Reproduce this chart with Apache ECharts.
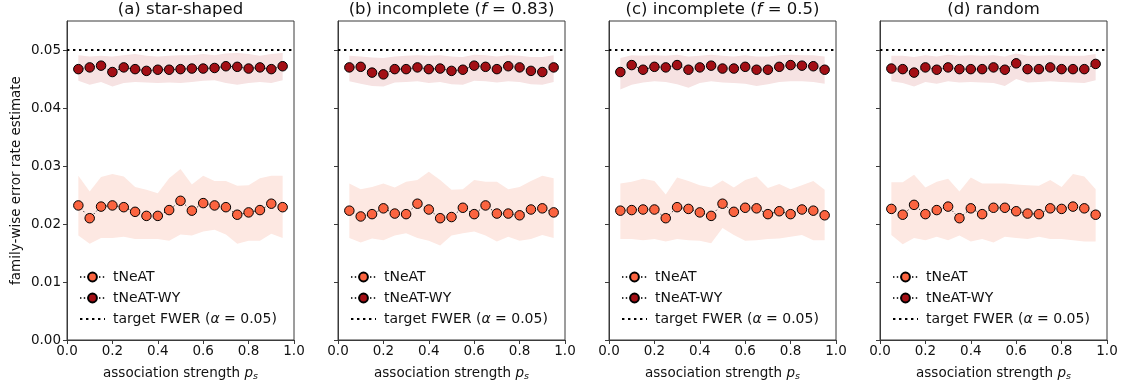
<!DOCTYPE html>
<html>
<head>
<meta charset="utf-8">
<script src="https://cdn.jsdelivr.net/npm/echarts@6/dist/echarts.min.js"></script>
<style>
html,body{margin:0;padding:0;background:#fff;}
#chart{width:1133px;height:387px;}
</style>
</head>
<body>
<div id="chart"></div>
<script>
// ---------- data ----------
const psValues = [0.05,0.10,0.15,0.20,0.25,0.30,0.35,0.40,0.45,0.50,0.55,0.60,0.65,0.70,0.75,0.80,0.85,0.90,0.95];
const xTickValues = [0.0,0.2,0.4,0.6,0.8,1.0];
const yTickValues = [0.00,0.01,0.02,0.03,0.04,0.05];
const targetFWER = 0.05;

const titleA = '(a) star-shaped';
const titleB = ['(b) incomplete (', 'f', ' = 0.83)'];
const titleC = ['(c) incomplete (', 'f', ' = 0.5)'];
const titleD = '(d) random';

// tNeAT means and bands
const tneatA = [0.0232,0.0210,0.0230,0.0232,0.0229,0.0221,0.0214,0.0214,0.0224,0.0240,0.0223,0.0236,0.0232,0.0229,0.0216,0.0220,0.0224,0.0235,0.0229];
const tneatUpA = [0.0283,0.0256,0.0281,0.0286,0.0282,0.0264,0.0259,0.0253,0.0279,0.0295,0.0268,0.0283,0.0274,0.0274,0.0266,0.0267,0.0279,0.0283,0.0283];
const tneatLoA = [0.0180,0.0166,0.0176,0.0176,0.0178,0.0174,0.0174,0.0174,0.0171,0.0182,0.0180,0.0187,0.0190,0.0182,0.0166,0.0171,0.0171,0.0183,0.0176];

const tneatB = [0.0223,0.0213,0.0217,0.0227,0.0218,0.0217,0.0235,0.0225,0.0210,0.0212,0.0228,0.0217,0.0232,0.0218,0.0218,0.0215,0.0225,0.0227,0.0220];
const tneatUpB = [0.0270,0.0260,0.0264,0.0270,0.0263,0.0273,0.0276,0.0290,0.0276,0.0259,0.0260,0.0276,0.0273,0.0273,0.0260,0.0264,0.0274,0.0283,0.0279];
const tneatLoB = [0.0176,0.0168,0.0175,0.0172,0.0180,0.0184,0.0176,0.0171,0.0163,0.0180,0.0184,0.0187,0.0180,0.0170,0.0178,0.0171,0.0174,0.0181,0.0176];

const tneatC = [0.0223,0.0224,0.0225,0.0225,0.0210,0.0229,0.0226,0.0220,0.0214,0.0235,0.0221,0.0228,0.0227,0.0217,0.0222,0.0217,0.0225,0.0223,0.0215];
const tneatUpC = [0.0270,0.0273,0.0278,0.0274,0.0251,0.0280,0.0274,0.0267,0.0263,0.0275,0.0263,0.0276,0.0282,0.0262,0.0269,0.0260,0.0267,0.0274,0.0259];
const tneatLoC = [0.0174,0.0174,0.0172,0.0174,0.0170,0.0174,0.0172,0.0171,0.0167,0.0193,0.0181,0.0171,0.0172,0.0174,0.0175,0.0178,0.0181,0.0172,0.0172];

const tneatD = [0.0226,0.0216,0.0233,0.0217,0.0224,0.0230,0.0210,0.0227,0.0217,0.0228,0.0228,0.0222,0.0218,0.0217,0.0227,0.0226,0.0230,0.0227,0.0216];
const tneatUpD = [0.0272,0.0272,0.0285,0.0263,0.0273,0.0278,0.0256,0.0280,0.0270,0.0270,0.0270,0.0268,0.0267,0.0266,0.0276,0.0264,0.0286,0.0282,0.0260];
const tneatLoD = [0.0181,0.0165,0.0176,0.0172,0.0178,0.0172,0.0180,0.0170,0.0174,0.0168,0.0178,0.0176,0.0174,0.0178,0.0174,0.0174,0.0172,0.0170,0.0170];

// tNeAT-WY means and bands
const wyA = [0.0467,0.0470,0.0473,0.0462,0.0470,0.0467,0.0464,0.0466,0.0466,0.0467,0.0468,0.0468,0.0469,0.0472,0.0471,0.0468,0.0470,0.0467,0.0472];
const wyUpA = [0.0491,0.0489,0.0490,0.0489,0.0491,0.0493,0.0490,0.0489,0.0490,0.0491,0.0491,0.0493,0.0491,0.0494,0.0495,0.0493,0.0490,0.0493,0.0495];
const wyLoA = [0.0447,0.0440,0.0445,0.0437,0.0443,0.0445,0.0444,0.0443,0.0444,0.0443,0.0445,0.0447,0.0448,0.0443,0.0440,0.0443,0.0445,0.0443,0.0448];

const wyB = [0.0470,0.0471,0.0461,0.0458,0.0467,0.0467,0.0470,0.0467,0.0468,0.0464,0.0466,0.0473,0.0471,0.0467,0.0472,0.0470,0.0464,0.0462,0.0470];
const wyUpB = [0.0490,0.0489,0.0487,0.0486,0.0489,0.0490,0.0491,0.0490,0.0491,0.0489,0.0488,0.0492,0.0491,0.0489,0.0491,0.0490,0.0488,0.0488,0.0491];
const wyLoB = [0.0446,0.0442,0.0438,0.0437,0.0444,0.0445,0.0446,0.0443,0.0445,0.0441,0.0440,0.0447,0.0446,0.0444,0.0446,0.0445,0.0441,0.0440,0.0445];

const wyC = [0.0462,0.0474,0.0466,0.0471,0.0470,0.0474,0.0466,0.0470,0.0473,0.0468,0.0468,0.0471,0.0466,0.0466,0.0471,0.0474,0.0473,0.0472,0.0466];
const wyUpC = [0.0486,0.0491,0.0490,0.0491,0.0490,0.0492,0.0489,0.0490,0.0492,0.0490,0.0489,0.0491,0.0489,0.0489,0.0491,0.0492,0.0491,0.0491,0.0489];
const wyLoC = [0.0432,0.0440,0.0444,0.0446,0.0445,0.0441,0.0435,0.0443,0.0446,0.0444,0.0443,0.0442,0.0438,0.0441,0.0445,0.0446,0.0446,0.0445,0.0442];

const wyD = [0.0468,0.0467,0.0461,0.0470,0.0466,0.0470,0.0467,0.0467,0.0467,0.0470,0.0466,0.0477,0.0467,0.0467,0.0470,0.0467,0.0467,0.0467,0.0476];
const wyUpD = [0.0490,0.0490,0.0488,0.0491,0.0489,0.0492,0.0490,0.0491,0.0490,0.0491,0.0489,0.0494,0.0490,0.0490,0.0491,0.0490,0.0490,0.0490,0.0493];
const wyLoD = [0.0446,0.0443,0.0437,0.0445,0.0442,0.0446,0.0444,0.0445,0.0444,0.0443,0.0438,0.0450,0.0444,0.0445,0.0446,0.0445,0.0444,0.0443,0.0448];

const seriesNames = ['tNeAT', 'tNeAT-WY', 'target FWER (\u03b1 = 0.05)'];

// ---------- layout / style ----------
const FONT = 'DejaVu Sans';
const gridLefts = [67, 338, 609, 880];
const gridTop = 21, gridW = 227, gridH = 319;
const colT = '#fb6440', colWY = '#a30f15';
const bandT = '#fde8e2', bandWY = '#f6e2e2';

const panels = [
  {title: titleA, m: tneatA, up: tneatUpA, lo: tneatLoA, wm: wyA, wup: wyUpA, wlo: wyLoA},
  {title: titleB, m: tneatB, up: tneatUpB, lo: tneatLoB, wm: wyB, wup: wyUpB, wlo: wyLoB},
  {title: titleC, m: tneatC, up: tneatUpC, lo: tneatLoC, wm: wyC, wup: wyUpC, wlo: wyLoC},
  {title: titleD, m: tneatD, up: tneatUpD, lo: tneatLoD, wm: wyD, wup: wyUpD, wlo: wyLoD}
];

const pairs = arr => psValues.map((x, i) => [x, arr[i]]);
const bandData = (lo, hi) => psValues.map((x, i) => [x, lo[i], hi[i]]);

function bandRenderer(data, fill) {
  return function (params, api) {
    if (params.dataIndex !== 0) return null;
    const top = data.map(d => api.coord([d[0], d[2]]));
    const bot = data.map(d => api.coord([d[0], d[1]])).reverse();
    return {type: 'polygon', shape: {points: top.concat(bot)}, style: {fill: fill}, silent: true};
  };
}

const grid = [], xAxis = [], yAxis = [], series = [], legend = [], graphic = [];

const textRich = {
  n: {fontFamily: FONT, fontSize: 16.5, color: '#111'},
  i: {fontFamily: FONT, fontSize: 16.5, fontStyle: 'italic', color: '#111'}
};

panels.forEach((p, k) => {
  grid.push({left: gridLefts[k], top: gridTop, width: gridW, height: gridH,
    show: true, borderColor: '#3a3a3a', borderWidth: 1, backgroundColor: 'transparent'});
  xAxis.push({
    type: 'value', gridIndex: k, min: 0, max: 1, interval: 0.2,
    splitLine: {show: false},
    axisLine: {show: true, onZero: false, lineStyle: {color: '#3a3a3a', width: 1}},
    axisTick: {show: true, length: 4, lineStyle: {color: '#3a3a3a'}, customValues: xTickValues},
    axisLabel: {fontFamily: FONT, fontSize: 13.5, color: '#111', margin: 4,
      customValues: xTickValues, formatter: v => v.toFixed(1)},
    name: '{n|association strength }{i|p}{s|s}',
    nameLocation: 'middle', nameGap: 24,
    nameTextStyle: {fontFamily: FONT, fontSize: 13.5, color: '#111', rich: {
      n: {fontFamily: FONT, fontSize: 13.5, color: '#111'},
      i: {fontFamily: FONT, fontSize: 13.5, fontStyle: 'italic', color: '#111'},
      s: {fontFamily: FONT, fontSize: 9.5, fontStyle: 'italic', color: '#111', padding: [8, 0, 0, 0]}
    }}
  });
  yAxis.push({
    type: 'value', gridIndex: k, min: 0, max: 0.055,
    splitLine: {show: false},
    axisLine: {show: true, onZero: false, lineStyle: {color: '#3a3a3a', width: 1}},
    axisTick: {show: true, length: 4, lineStyle: {color: '#3a3a3a'}, customValues: yTickValues},
    axisLabel: {show: k === 0, fontFamily: FONT, fontSize: 13.5, color: '#111', margin: 6,
      customValues: yTickValues, formatter: v => v.toFixed(2)},
    name: k === 0 ? 'family-wise error rate estimate' : '',
    nameLocation: 'middle', nameGap: 44,
    nameTextStyle: {fontFamily: FONT, fontSize: 13.5, color: '#111'}
  });

  // bands
  const bt = bandData(p.lo, p.up), bw = bandData(p.wlo, p.wup);
  series.push({type: 'custom', name: 'band-t-' + k, xAxisIndex: k, yAxisIndex: k,
    data: bt, encode: {x: 0, y: [1, 2]}, renderItem: bandRenderer(bt, bandT), silent: true, z: 1});
  series.push({type: 'custom', name: 'band-w-' + k, xAxisIndex: k, yAxisIndex: k,
    data: bw, encode: {x: 0, y: [1, 2]}, renderItem: bandRenderer(bw, bandWY), silent: true, z: 1});

  // target line
  series.push({type: 'line', name: seriesNames[2], xAxisIndex: k, yAxisIndex: k,
    data: [[0, targetFWER], [1, targetFWER]], symbol: 'none',
    lineStyle: {color: '#000', width: 2.2, type: [2.4, 3.6]},
    itemStyle: {color: '#000'}, z: 2});

  // means
  series.push({type: 'line', name: seriesNames[0], xAxisIndex: k, yAxisIndex: k,
    data: pairs(p.m), symbol: 'circle', symbolSize: 9.5, showAllSymbol: true,
    lineStyle: {color: '#333', width: 1, type: [1.4, 2.4]},
    itemStyle: {color: colT, borderColor: '#000', borderWidth: 1}, z: 3});
  series.push({type: 'line', name: seriesNames[1], xAxisIndex: k, yAxisIndex: k,
    data: pairs(p.wm), symbol: 'circle', symbolSize: 9.5, showAllSymbol: true,
    lineStyle: {color: '#333', width: 1, type: [1.4, 2.4]},
    itemStyle: {color: colWY, borderColor: '#000', borderWidth: 1}, z: 3});

  legend.push({
    data: [
      {name: seriesNames[0]},
      {name: seriesNames[1]},
      {name: seriesNames[2], itemStyle: {opacity: 0}}
    ],
    orient: 'vertical', left: gridLefts[k] + 12, top: 270,
    padding: 0, itemGap: 7, itemWidth: 25, itemHeight: 11, selectedMode: false,
    formatter: name => name === seriesNames[2] ? '{n|target FWER (}{i|\u03b1}{n| = 0.05)}' : '{n|' + name + '}',
    textStyle: {fontFamily: FONT, fontSize: 14, lineHeight: 14, color: '#111', padding: [0, 0, 0, 3], rich: {
      n: {fontFamily: FONT, fontSize: 14, lineHeight: 14, color: '#111', padding: 0},
      i: {fontFamily: FONT, fontSize: 14, lineHeight: 14, fontStyle: 'italic', color: '#111', padding: 0}
    }}
  });

  const t = Array.isArray(p.title) ? '{n|' + p.title[0] + '}{i|' + p.title[1] + '}{n|' + p.title[2] + '}' : '{n|' + p.title + '}';
  graphic.push({type: 'text', x: gridLefts[k] + gridW / 2, y: 10, z: 10,
    style: {text: t, rich: textRich, align: 'center', verticalAlign: 'middle',
      font: '16.5px "DejaVu Sans"', fill: '#111'}});
});

const chart = echarts.init(document.getElementById('chart'), null, {renderer: 'canvas'});
chart.setOption({
  animation: false,
  backgroundColor: '#fff',
  grid, xAxis, yAxis, series, legend, graphic
});
</script>
</body>
</html>
